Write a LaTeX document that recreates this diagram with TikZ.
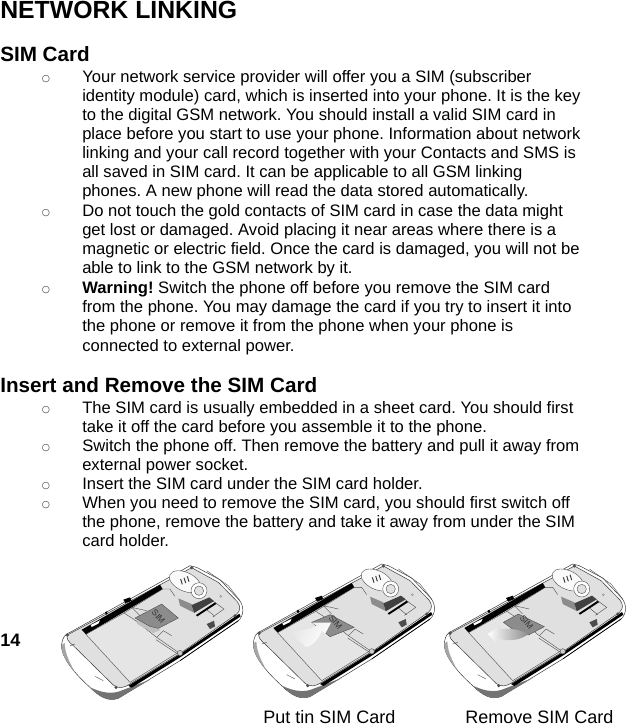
\documentclass[tikz,border=0pt]{standalone}
\usepackage{fontspec}
\setmainfont{Liberation Sans}
\newfontfamily\bulletfont{DejaVu Sans}
\usetikzlibrary{shadings}

\tikzset{
  bodyline/.style={anchor=base west,inner sep=0pt,font=\fontsize{12.45}{14}\selectfont},
  bulletmark/.style={anchor=base,inner sep=0pt,text=black!80,font=\bulletfont\fontsize{7}{8}\selectfont},
  headline/.style={anchor=base west,inner sep=0pt,font=\bfseries\fontsize{15.5}{18}\selectfont},
  caption/.style={anchor=base west,inner sep=0pt,font=\fontsize{13.5}{16}\selectfont},
  shell/.style={draw=black!80,line width=0.35pt,line join=round},
  thin edge/.style={draw=black!70,line width=0.3pt},
  simtext/.style={inner sep=0pt,text=black!80,font=\fontsize{6.5}{7}\selectfont,rotate=-50},
}

% one phone, in units of the 3x crop
\newcommand{\phoneback}{
  \path[shell,fill=white] (35,265) .. controls (30,300) and (70,350) .. (120,395) .. controls (150,425) and (175,438) .. (205,428) -- (390,315) -- (565,195) .. controls (582,180) and (584,150) .. (565,130) -- (510,72) -- (440,35) -- (420,30) -- (60,230) .. controls (45,235) and (38,245) .. (35,265) -- cycle;
  \fill[black!35] (35,268) .. controls (32,295) and (55,325) .. (75,350) .. controls (60,322) and (45,295) .. (44,262) -- cycle;
  \fill[black!55] (120,395) .. controls (150,425) and (175,438) .. (205,428) -- (300,372) -- (205,408) .. controls (175,416) and (150,408) .. (120,395) -- cycle;
  \path[shell,fill=black!12] (52,238) -- (425,36) -- (505,80) -- (562,138) .. controls (572,152) and (572,165) .. (560,175) -- (395,290) -- (240,385) .. controls (222,397) and (205,400) .. (190,388) -- (70,270) .. controls (55,258) and (48,248) .. (52,238) -- cycle;
  \fill[black] (235,390) -- (395,292) -- (568,174) -- (572,182) -- (395,302) -- (245,396) -- cycle;
  \draw[black,line width=0.5pt] (390,315) -- (565,195);
  \draw[thin edge] (470,45) -- (535,90) -- (570,135);
  % battery bay
  \fill[black] (95,222) -- (330,87) -- (338,100) -- (108,236) -- cycle;
  \fill[white] (122,208) -- (150,194) -- (145,204) -- (125,214) -- cycle;
  \draw[thin edge,fill=black!10] (108,236) -- (222,172) -- (250,190) -- (320,245) -- (385,290) -- (240,380) -- cycle;
  \draw[thin edge] (222,172) -- (338,100) -- (360,100) -- (375,122);
  \fill[black] (220,132) -- (240,125) -- (245,135) -- (226,142) -- cycle;
  \fill[black] (165,170) -- (170,167) -- (173,174) -- (168,177) -- cycle;
  % sim holder
  \draw[thin edge] (245,155) -- (290,165) (245,155) -- (270,180);
  \draw[thin edge] (320,245) -- (340,225) -- (365,240) (318,252) -- (385,296);
  \filldraw[fill=black!20,draw=black!70,line width=0.3pt] (390,292) circle (8);
  \foreach \x/\y in {52/238,198/395,425/36,555/180}
    \fill[black!70] (\x,\y) circle (5);
  % camera
  \draw[thin edge,fill=black!2,rotate around={-25:(405,78)}] (405,78) ellipse (50 and 28);
  \foreach \x/\y in {392/70,402/66,412/62}
    \draw[black!80,line width=0.7pt] (\x,\y) -- ++(5,16);
  \draw[thin edge,fill=white] (447,105) circle (24);
  \draw[thin edge,fill=black!12] (447,105) circle (14);
  % notch
  \fill[black!45] (385,128) -- (425,145) -- (430,170) -- (390,150) -- cycle;
  \fill[black!75] (425,148) -- (478,125) -- (492,136) -- (432,172) -- cycle;
  \fill[black] (438,178) -- (495,140) -- (500,144) -- (442,182) -- cycle;
  \draw[thin edge] (478,128) -- (522,160) -- (488,184) (470,162) -- (495,182);
  \fill[black!70] (470,205) -- (492,195) -- (495,212) -- (480,220) -- cycle;
  \draw[black!50,line width=0.3pt] (512,122) circle (3);
  % lower lines
  \draw[thin edge] (60,270) -- (75,265) (135,362) -- (160,375);
}

\begin{document}
\frenchspacing
\begin{tikzpicture}[x=0.75pt,y=-0.75pt]
  \useasboundingbox (0,-0.7) rectangle (627,726.3);

  \node[headline,font=\bfseries\fontsize{18.6}{20}\selectfont] (title) at (0,18) {NETWORK LINKING};
  \node[headline] (simhead) at (0,61) {SIM Card};
  \node[headline] (inserthead) at (0,392) {Insert and Remove the SIM Card};
  \node[headline,font=\bfseries\fontsize{13.5}{16}\selectfont] (pagenum) at (0,646) {14};

  \foreach \y/\txt in {
    82/{Your network service provider will offer you a SIM (subscriber},
    101/{identity module) card, which is inserted into your phone. It is the key},
    120/{to the digital GSM network. You should install a valid SIM card in},
    139/{place before you start to use your phone. Information about network},
    158/{linking and your call record together with your Contacts and SMS is},
    177/{all saved in SIM card. It can be applicable to all GSM linking},
    196/{phones. A new phone will read the data stored automatically.},
    216/{Do not touch the gold contacts of SIM card in case the data might},
    235/{get lost or damaged. Avoid placing it near areas where there is a},
    254/{magnetic or electric field. Once the card is damaged, you will not be},
    273/{able to link to the GSM network by it.},
    293/{\textbf{Warning!} Switch the phone off before you remove the SIM card},
    312/{from the phone. You may damage the card if you try to insert it into},
    331/{the phone or remove it from the phone when your phone is},
    351/{connected to external power.},
    413/{The SIM card is usually embedded in a sheet card. You should first},
    432/{take it off the card before you assemble it to the phone.},
    451/{Switch the phone off. Then remove the battery and pull it away from},
    470/{external power socket.},
    489/{Insert the SIM card under the SIM card holder.},
    508/{When you need to remove the SIM card, you should first switch off},
    527/{the phone, remove the battery and take it away from under the SIM},
    546/{card holder.}}
    \node[bodyline] (line\y) at (82,\y) {\txt};

  \foreach \y in {80.5,214.5,291.5,411.5,449.5,487.5,506.5}
    \node[bulletmark] (mark\y) at (46,\y) {○};

  % phones
  \begin{scope}[shift={(50,555)},x=0.25pt,y=-0.25pt]
    \phoneback
    \fill[black!25] (258,192) -- (262,205) -- (310,232) -- (332,222) -- cycle;
    \draw[thin edge,fill=black!45] (255,187) -- (335,145) -- (385,187) -- (325,218) -- (300,212) -- cycle;
    \node[simtext] (simone) at (325,183) {SIM};
  \end{scope}

  \begin{scope}[shift={(241.7,553.3)},x=0.25pt,y=-0.25pt]
    \phoneback
    \draw[thin edge,fill=black!45] (210,205) -- (265,182) -- (337,220) -- (265,248) -- cycle;
    \node[simtext] (simtwo) at (282,205) {SIM};
    \shade[left color=black!10,right color=white,shading angle=60] (140,230) .. controls (175,232) and (205,225) .. (225,215) -- (210,206) -- (268,206) -- (250,240) -- (240,230) .. controls (235,250) and (215,272) .. (195,280) .. controls (175,265) and (155,245) .. (140,230) -- cycle;
  \end{scope}

  \begin{scope}[shift={(432.7,553.3)},x=0.25pt,y=-0.25pt]
    \phoneback
    \draw[thin edge,fill=black!45] (212,205) -- (257,180) -- (335,218) -- (287,243) -- (252,235) -- cycle;
    \node[simtext] (simthree) at (282,205) {SIM};
    \shade[left color=white,right color=black!45] (165,240) -- (202,215) -- (202,225) .. controls (235,222) and (265,228) .. (287,240) .. controls (275,250) and (265,252) .. (257,255) .. controls (235,262) and (212,258) .. (192,253) -- (189,265) -- cycle;
  \end{scope}

  \node[caption] (puttin) at (263,723) {Put tin SIM Card};
  \node[caption] (removesim) at (465,723) {Remove SIM Card};
\end{tikzpicture}
\end{document}
